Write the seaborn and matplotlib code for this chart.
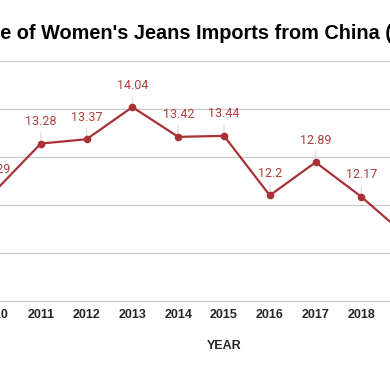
import matplotlib
matplotlib.use("Agg")
import matplotlib.pyplot as plt
import seaborn as sns

years = [2010, 2011, 2012, 2013, 2014, 2015, 2016, 2017, 2018, 2019]
unit_value = [12.29, 13.28, 13.37, 14.04, 13.42, 13.44, 12.2, 12.89, 12.17, 11.34]
title = "Unit Value of Women's Jeans Imports from China ($)"
title_cut = "Unit Valu"  # part of the title that falls off the left edge

line_color = "#a93236"
label_color = "#b0403f"

sns.set_style("white")
plt.rcParams["font.family"] = ["Liberation Sans", "DejaVu Sans"]

W, H = 390, 371
fig = plt.figure(figsize=(W / 100, H / 100), dpi=100)
# the chart is cropped: the axes run past both edges of the picture
ax = fig.add_axes([-40 / W, 67.6 / H, 528 / W, 242.4 / H])

sns.lineplot(x=years, y=unit_value, ax=ax, color=line_color, linewidth=1.6,
             marker="o", markersize=5.5, markeredgewidth=0, zorder=3)

for x, v in zip(years, unit_value):
    ax.annotate(f"{v:g}", (x, v), xytext=(0, 22), textcoords="offset pixels",
                ha="center", va="center", color=label_color, fontsize=9,
                family=["Roboto", "DejaVu Sans"],
                arrowprops=dict(arrowstyle="-", color="#e2e2e2", lw=1,
                                shrinkA=1, shrinkB=2), zorder=2)

ax.set_xlim(2010 - 0.764, 2010 + 10.764)
ax.set_ylim(9.95, 15)
ax.set_yticks([10, 11, 12, 13, 14, 15])
ax.set_xticks(years)
ax.set_xticklabels([str(y) for y in years], fontweight="bold", fontsize=9)
ax.tick_params(axis="x", length=0, pad=4)
ax.tick_params(axis="y", length=0)
ax.yaxis.grid(True, color="#cccccc", linewidth=1)
ax.set_axisbelow(True)
for s in ax.spines.values():
    s.set_visible(False)
ax.set_xlabel("YEAR", fontweight="bold", fontsize=9, labelpad=14)
ax.set_ylabel("")

renderer = fig.canvas.get_renderer()
probe = fig.text(0, 0, title_cut, fontsize=14.3, fontweight="bold")
cut_w = probe.get_window_extent(renderer).width
probe.remove()
fig.text(-cut_w / W, (H - 39) / H, title, fontsize=14.3, fontweight="bold",
         ha="left", va="baseline", color="black")

fig.savefig("out.png", dpi=100)
